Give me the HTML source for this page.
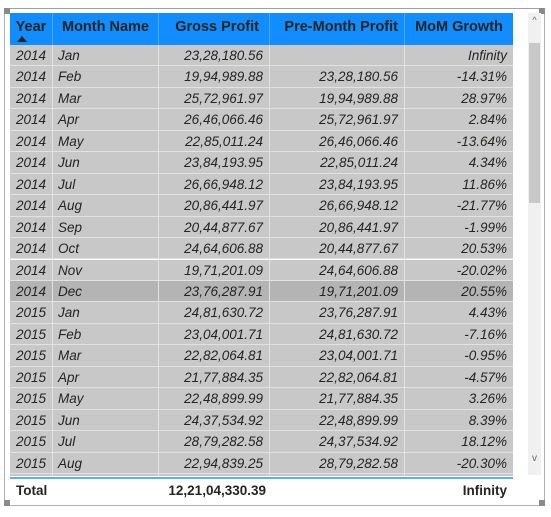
<!DOCTYPE html>
<html><head><meta charset="utf-8"><style>
body{margin:0;width:551px;height:517px;background:#fff;font-family:"Liberation Sans",sans-serif;overflow:hidden;position:relative}
.frame{position:absolute;left:4px;top:8px;width:539px;height:496px;border:1px solid #b0b0b0;border-top-color:#a0a0a0}
.corner{position:absolute;width:6px;height:6px;background:#8a8a8a}
#tbl{position:absolute;left:10px;top:13px;width:503px}
.row{position:absolute;left:0;width:503px;height:21.45px;background:#c8c8c8;border-bottom:1px solid #e2e2e2;box-sizing:border-box}
.cell{position:absolute;top:0;height:100%;line-height:21px;font-size:13.5px;font-style:italic;color:#252423;box-sizing:border-box;border-right:1px solid #e2e2e2;white-space:nowrap}
.hdr{position:absolute;left:0;top:0;width:503px;height:32px;background:#118dff}
.hc{position:absolute;top:0;height:32px;line-height:28px;font-size:14.5px;font-weight:bold;color:#252423;box-sizing:border-box;border-right:1px solid #4aa8ff;text-align:center}
.r{text-align:right;padding-right:6px}
.l{text-align:left;padding-left:5px}
</style></head><body>
<div class="frame"></div>
<div class="corner" style="left:4px;top:8px"></div>
<div class="corner" style="left:539px;top:8px"></div>
<div class="corner" style="left:4px;top:500px"></div>
<div class="corner" style="left:539px;top:500px"></div>
<div id="tbl">
 <div class="hdr">
  <div class="hc" style="left:0;width:43px">Year<div style="position:absolute;left:7px;top:23px;width:0;height:0;border-left:5px solid transparent;border-right:5px solid transparent;border-bottom:6px solid #252423"></div></div>
  <div class="hc" style="left:43px;width:106px">Month Name</div>
  <div class="hc" style="left:149px;width:111px;text-align:right;padding-right:10px">Gross Profit</div>
  <div class="hc" style="left:260px;width:135px;text-align:right;padding-right:6px">Pre-Month Profit</div>
  <div class="hc" style="left:395px;width:108px;border-right:none">MoM Growth</div>
 </div>
 <div id="body" style="position:absolute;left:0;top:32px;width:503px;height:431px;overflow:hidden"></div>
 <div style="position:absolute;left:0;top:464px;width:503px;height:2px;background:#5aaefc"></div>
 <div style="position:absolute;left:6px;top:470px;font-size:13.5px;font-weight:bold;color:#252423">Total</div>
 <div style="position:absolute;right:247px;top:470px;font-size:13.5px;font-weight:bold;color:#252423">12,21,04,330.39</div>
 <div style="position:absolute;right:6px;top:470px;font-size:13.5px;font-weight:bold;color:#252423">Infinity</div>
</div>
<div style="position:absolute;left:528px;top:13px;width:13px;height:462px;background:#f0f0f0">
 <div style="position:absolute;top:2px;width:13px;text-align:center;font-size:9px;color:#666">^</div>
 <div style="position:absolute;left:1px;top:30px;width:11px;height:160px;background:#c8c8c8"></div>
 <div style="position:absolute;top:440px;width:13px;text-align:center;font-size:10px;color:#666">v</div>
</div>
<script>
const years=["2014","2014","2014","2014","2014","2014","2014","2014","2014","2014","2014","2014","2015","2015","2015","2015","2015","2015","2015","2015","2015"];
const months=["Jan","Feb","Mar","Apr","May","Jun","Jul","Aug","Sep","Oct","Nov","Dec","Jan","Feb","Mar","Apr","May","Jun","Jul","Aug","Sep"];
const gross=["23,28,180.56","19,94,989.88","25,72,961.97","26,46,066.46","22,85,011.24","23,84,193.95","26,66,948.12","20,86,441.97","20,44,877.67","24,64,606.88","19,71,201.09","23,76,287.91","24,81,630.72","23,04,001.71","22,82,064.81","21,77,884.35","22,48,899.99","24,37,534.92","28,79,282.58","22,94,839.25",""];
const pre=["","23,28,180.56","19,94,989.88","25,72,961.97","26,46,066.46","22,85,011.24","23,84,193.95","26,66,948.12","20,86,441.97","20,44,877.67","24,64,606.88","19,71,201.09","23,76,287.91","24,81,630.72","23,04,001.71","22,82,064.81","21,77,884.35","22,48,899.99","24,37,534.92","28,79,282.58",""];
const growth=["Infinity","-14.31%","28.97%","2.84%","-13.64%","4.34%","11.86%","-21.77%","-1.99%","20.53%","-20.02%","20.55%","4.43%","-7.16%","-0.95%","-4.57%","3.26%","8.39%","18.12%","-20.30%",""];
const body=document.getElementById('body');
const cols=[[0,43,'r'],[43,106,'l'],[149,111,'r'],[260,135,'r'],[395,108,'r']];
years.forEach((y,i)=>{
 const row=document.createElement('div');
 row.className='row';
 
 
 row.style.top=(i*21.45)+'px';
 if(i===11)row.style.background='#b4b4b4';
 [y,months[i],gross[i],pre[i],growth[i]].forEach((v,j)=>{
  const c=document.createElement('div');
  c.className='cell '+cols[j][2];
  
  
  c.style.left=cols[j][0]+'px';c.style.width=cols[j][1]+'px';
  if(j===4)c.style.borderRight='none';
  c.textContent=i===20?'':v;
  row.appendChild(c);
 });
 body.appendChild(row);
});
</script>
</body></html>
